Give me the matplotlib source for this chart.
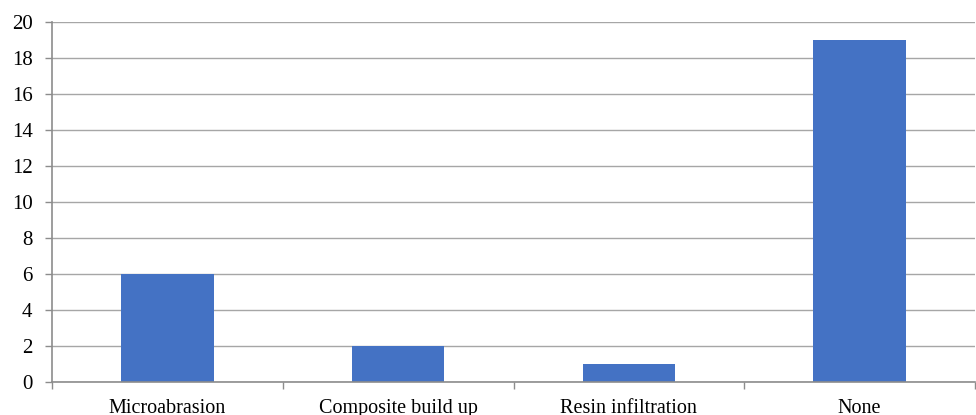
import matplotlib.pyplot as plt
import numpy as np

categories = ["Microabrasion", "Composite build up", "Resin infiltration", "None"]
counts = [6, 2, 1, 19]
y_ticks = [0, 2, 4, 6, 8, 10, 12, 14, 16, 18, 20]

plt.rcParams["font.family"] = ["Liberation Serif", "DejaVu Serif"]

fig = plt.figure(figsize=(9.76, 4.15), dpi=100)
ax = fig.add_axes([52 / 976, 1 - 382 / 415, 923 / 976, 360 / 415])

x = np.arange(len(categories))
ax.bar(x, counts, width=0.4, color="#4472C4", zorder=3)

ax.set_xlim(-0.5, len(categories) - 0.5)
ax.set_ylim(0, 20)
ax.set_yticks(y_ticks)
ax.grid(axis="y", color="#A6A6A6", linewidth=1.0, zorder=0)

# category labels centred, tick marks at the boundaries
ax.set_xticks(x)
ax.set_xticklabels(categories, fontsize=14.5)
ax.tick_params(axis="x", length=0, pad=12)
ax.set_xticks(np.arange(-0.5, len(categories)), minor=True)
ax.tick_params(axis="x", which="minor", length=5, color="#8C8C8C", width=1)
ax.tick_params(axis="y", labelsize=15, length=5, color="#8C8C8C", width=1, pad=9)

for side in ["top", "right"]:
    ax.spines[side].set_visible(False)
for side in ["left", "bottom"]:
    ax.spines[side].set_color("#8C8C8C")
    ax.spines[side].set_linewidth(1.2)
ax.spines["bottom"].set_zorder(4)

fig.savefig("out.png", dpi=100)
